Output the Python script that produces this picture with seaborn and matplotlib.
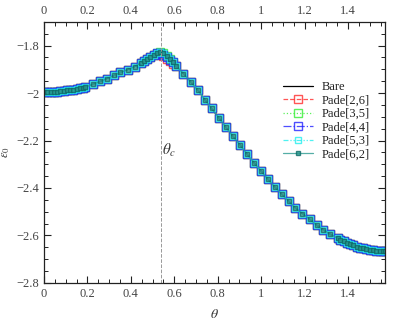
import numpy as np
import pandas as pd
import matplotlib
matplotlib.use("Agg")
import matplotlib.pyplot as plt
from matplotlib.ticker import MultipleLocator, FuncFormatter
import seaborn as sns

# =========================
# DATA
# =========================
theta = [
    0.0, 0.015, 0.03, 0.045, 0.06, 0.075, 0.09, 0.105, 0.12, 0.135, 0.15, 0.165, 0.18,
    0.19, 0.224, 0.259, 0.29, 0.324, 0.352, 0.386, 0.418, 0.447,
    0.46, 0.475, 0.49, 0.505, 0.52, 0.535, 0.55, 0.565, 0.58, 0.595, 0.61,
    0.642, 0.676, 0.71, 0.741, 0.772, 0.804, 0.838, 0.869, 0.903, 0.935, 0.967,
    1.0, 1.031, 1.062, 1.096, 1.127, 1.157, 1.19, 1.224, 1.255, 1.285, 1.319, 1.352,
    1.365, 1.38, 1.395, 1.41, 1.425, 1.44, 1.455, 1.47, 1.485, 1.5, 1.515, 1.53,
    1.545, 1.56, 1.5708,
]
eps_bare = [
    -1.997, -1.997, -1.996, -1.995, -1.994, -1.993, -1.991, -1.989, -1.987, -1.985, -1.983, -1.980, -1.977,
    -1.975, -1.963, -1.951, -1.939, -1.925, -1.913, -1.901, -1.888, -1.872,
    -1.865, -1.857, -1.848, -1.840, -1.832, -1.826, -1.833, -1.844, -1.857, -1.871, -1.887,
    -1.918, -1.953, -1.989, -2.028, -2.065, -2.103, -2.144, -2.181, -2.219, -2.257, -2.294,
    -2.329, -2.363, -2.395, -2.427, -2.456, -2.484, -2.508, -2.532, -2.556, -2.576, -2.596, -2.611,
    -2.618, -2.625, -2.631, -2.637, -2.642, -2.647, -2.651, -2.655, -2.658, -2.661, -2.663, -2.664,
    -2.665, -2.666, -2.666,
]
# Pade approximants coincide with the bare curve except close to the peak
eps_pade26 = list(eps_bare)
eps_pade26[26:32] = [-1.836, -1.834, -1.845, -1.856, -1.866, -1.876]
eps_pade35 = list(eps_bare)
eps_pade44 = list(eps_bare)
eps_pade44[27:31] = [-1.829, -1.838, -1.850, -1.861]
eps_pade53 = list(eps_bare)
eps_pade62 = list(eps_bare)

theta_c = 0.537

labels = ["Pade[2,6]", "Pade[3,5]", "Pade[4,4]", "Pade[5,3]", "Pade[6,2]"]
series = [eps_pade26, eps_pade35, eps_pade44, eps_pade53, eps_pade62]

# =========================
# STYLE
# =========================
sns.set_theme(style="ticks")
plt.rcParams["font.family"] = ["Liberation Serif", "DejaVu Serif"]
plt.rcParams["mathtext.fontset"] = "stix"
plt.rcParams["axes.unicode_minus"] = True

styles = [
    dict(color="#ff2a2a", ls="--", ms=6.2, mfc="none", mec="#ff2a2a"),
    dict(color="#33ee33", ls=":", ms=6.2, mfc="none", mec="#33ee33"),
    dict(color="#2222ff", ls="-.", ms=5.2, mfc="none", mec="#2222ff"),
    dict(color="#22eeee", ls=(0, (4, 1.5, 1, 1.5, 1, 1.5)), ms=4.2, mfc="none", mec="#22eeee"),
    dict(color="#2a9a90", ls="-", ms=3.0, mfc="#2a9a90", mec="#0d6a66"),
]

# =========================
# FIGURE
# =========================
fig = plt.figure(figsize=(4.15, 3.27), dpi=100)
ax = fig.add_axes([0.106, 0.135, 0.822, 0.798])

df = pd.DataFrame({"theta": theta, "Bare": eps_bare})
sns.lineplot(data=df, x="theta", y="Bare", color="black", lw=0.9,
             label="Bare", ax=ax)

for lab, vals, st in zip(labels, series, styles):
    d = pd.DataFrame({"theta": theta, "eps": vals})
    sns.lineplot(data=d, x="theta", y="eps", color=st["color"], linestyle=st["ls"],
                 lw=0.9, alpha=0.8, marker="s", markersize=st["ms"],
                 markerfacecolor=st["mfc"], markeredgecolor=st["mec"],
                 markeredgewidth=1.0, label=lab, ax=ax)

ax.axvline(theta_c, color="#999999", ls="--", lw=0.7)
ax.text(theta_c + 0.005, -2.24, r"$\theta_c$", fontsize=11, color="#333333", va="center")

ax.set_xlim(0, np.pi / 2)
ax.set_ylim(-2.8, -1.7)
ax.xaxis.set_major_locator(MultipleLocator(0.2))
ax.xaxis.set_minor_locator(MultipleLocator(0.05))
ax.yaxis.set_major_locator(MultipleLocator(0.2))
ax.yaxis.set_minor_locator(MultipleLocator(0.05))
fmt = FuncFormatter(lambda v, p: ("%g" % round(v, 2)).replace("-", "\u2212"))
ax.xaxis.set_major_formatter(fmt)
ax.yaxis.set_major_formatter(fmt)

ax.tick_params(which="both", direction="in", top=True, right=True,
               labeltop=True, labelsize=9, labelcolor="#444444", color="#222222")
ax.tick_params(which="major", length=5, width=0.8)
ax.tick_params(which="minor", length=2.8, width=0.7)
for s in ax.spines.values():
    s.set_color("#222222")
    s.set_linewidth(0.9)

ax.set_xlabel(r"$\theta$", fontsize=10, color="#333333", labelpad=6)
ax.set_ylabel(r"$\varepsilon_0$", fontsize=9, color="#333333", labelpad=3)

leg = ax.legend(loc="upper left", bbox_to_anchor=(0.686, 0.792), frameon=False,
                fontsize=9, handlelength=2.4, handletextpad=0.72,
                labelspacing=0.12, borderaxespad=0.0)
for t in leg.get_texts():
    t.set_color("#222222")

plt.savefig("out.png", dpi=100)
